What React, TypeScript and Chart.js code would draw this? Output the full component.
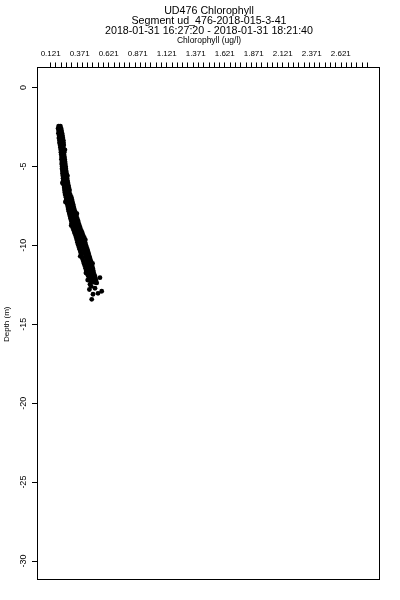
import React, { useEffect, useRef } from "react";
import { Chart, registerables } from "chart.js";

Chart.register(...registerables);

const titleLines = [
  "UD476 Chlorophyll",
  "Segment ud_476-2018-015-3-41",
  "2018-01-31 16:27:20 - 2018-01-31 18:21:40",
];
const xAxisTitle = "Chlorophyll (ug/l)";
const yAxisTitle = "Depth (m)";

const xTickValues = [0.121, 0.371, 0.621, 0.871, 1.121, 1.371, 1.621, 1.871, 2.121, 2.371, 2.621];
const xTickLabels = ["0.121", "0.371", "0.621", "0.871", "1.121", "1.371", "1.621", "1.871", "2.121", "2.371", "2.621"];
const xMinorStart = 0.121;
const xMinorStep = 0.0455;
const xMinorCount = 61;
const xMin = 0.012;
const xMax = 2.959;

const yTickValues = [0, -5, -10, -15, -20, -25, -30];
const yMin = -31.2;
const yMax = 1.2;

// depth (m) rows with the chlorophyll (ug/l) readings found at each depth
const depthRows = [
  -2.45, -2.6, -2.75, -2.9, -3.05, -3.2, -3.35, -3.5, -3.65, -3.8,
  -3.95, -4.1, -4.25, -4.4, -4.55, -4.7, -4.85, -5.0, -5.15, -5.3,
  -5.45, -5.6, -5.75, -5.9, -6.05, -6.2, -6.35, -6.5, -6.65, -6.8,
  -6.95, -7.1, -7.25, -7.4, -7.55, -7.7, -7.85, -8.0, -8.15, -8.3,
  -8.45, -8.6, -8.75, -8.9, -9.05, -9.2, -9.35, -9.5, -9.65, -9.8,
  -9.95, -10.1, -10.25, -10.4, -10.55, -10.7, -10.85, -11.0, -11.15, -11.3,
  -11.45, -11.6, -11.75, -11.9, -12.05, -12.2, -12.35, -12.38, -12.47, -12.6,
  -12.72, -12.8, -12.91, -13.04, -13.1, -13.42,
];
const chlRows = [
  [0.19, 0.205], [0.185, 0.198, 0.211], [0.19, 0.206, 0.215], [0.188, 0.2, 0.219], [0.194, 0.21, 0.223],
  [0.192, 0.206, 0.226], [0.198, 0.215, 0.23], [0.197, 0.212, 0.232], [0.202, 0.219, 0.234], [0.205, 0.223, 0.23],
  [0.208, 0.22, 0.236, 0.244], [0.21, 0.226, 0.238], [0.212, 0.228, 0.236], [0.215, 0.225, 0.24], [0.214, 0.23, 0.242],
  [0.218, 0.232, 0.245], [0.216, 0.228, 0.247], [0.22, 0.236, 0.25], [0.219, 0.232, 0.252], [0.222, 0.24, 0.255],
  [0.223, 0.238, 0.258], [0.226, 0.243, 0.256, 0.266], [0.228, 0.245, 0.262], [0.23, 0.248, 0.266], [0.222, 0.232, 0.25, 0.27],
  [0.235, 0.255, 0.274], [0.238, 0.258, 0.278], [0.24, 0.262, 0.284], [0.243, 0.265, 0.282], [0.246, 0.268, 0.29],
  [0.253, 0.277, 0.299], [0.256, 0.281, 0.304], [0.248, 0.26, 0.287, 0.309], [0.264, 0.291, 0.314], [0.269, 0.294, 0.319],
  [0.272, 0.3, 0.324], [0.277, 0.304, 0.331], [0.282, 0.31, 0.337, 0.347], [0.287, 0.315, 0.343], [0.292, 0.32, 0.35],
  [0.298, 0.327, 0.357], [0.302, 0.332, 0.362], [0.298, 0.307, 0.337, 0.369], [0.312, 0.344, 0.376], [0.32, 0.352, 0.384],
  [0.326, 0.359, 0.393], [0.334, 0.367, 0.4], [0.341, 0.373, 0.41], [0.346, 0.38, 0.408, 0.42], [0.352, 0.385, 0.417],
  [0.357, 0.391, 0.423], [0.364, 0.398, 0.43], [0.371, 0.405, 0.437], [0.377, 0.411, 0.443], [0.383, 0.418, 0.449],
  [0.376, 0.389, 0.424, 0.455], [0.395, 0.429, 0.461], [0.402, 0.436, 0.468], [0.408, 0.442, 0.472, 0.482], [0.415, 0.448, 0.478],
  [0.422, 0.454, 0.484], [0.428, 0.46, 0.488], [0.425, 0.434, 0.466, 0.492], [0.442, 0.475, 0.5], [0.45, 0.482, 0.506, 0.546],
  [0.44, 0.46, 0.49, 0.512], [0.468, 0.5], [0.518], [0.46], [0.47],
  [0.503], [0.455], [0.561], [0.529], [0.486], [0.475],
];

const FONT = "'Liberation Sans', Arial, Helvetica, sans-serif";

export default function App() {
  const ref = useRef<HTMLCanvasElement | null>(null);

  useEffect(() => {
    if (!ref.current) return;
    const points: { x: number; y: number }[] = [];
    depthRows.forEach((d, i) => {
      chlRows[i].forEach((c) => points.push({ x: c, y: d }));
    });
    const minorTicks: number[] = [];
    for (let i = 0; i < xMinorCount; i++) minorTicks.push(xMinorStart + i * xMinorStep);

    const boxPlugin = {
      id: "box",
      afterDraw(chart: any) {
        const { ctx, chartArea } = chart;
        ctx.save();
        ctx.strokeStyle = "#000";
        ctx.lineWidth = 1;
        const l = Math.round(chartArea.left) - 0.5;
        const t = Math.round(chartArea.top) - 0.5;
        const r = Math.round(chartArea.right) - 0.5;
        const b = Math.round(chartArea.bottom) - 0.5;
        ctx.strokeRect(l, t, r - l, b - t);
        ctx.restore();
      },
    };

    const chart = new Chart(ref.current, {
      type: "scatter",
      data: {
        datasets: [
          {
            data: points,
            backgroundColor: "#000",
            borderWidth: 0,
            pointRadius: 2.4,
            pointHoverRadius: 2.4,
          },
        ],
      },
      plugins: [boxPlugin],
      options: {
        animation: false,
        responsive: false,
        events: [],
        layout: { padding: { left: 0, right: 20, top: 0, bottom: 20 } },
        plugins: {
          legend: { display: false },
          tooltip: { enabled: false },
          title: {
            display: true,
            text: titleLines,
            fullSize: false,
            color: "#000",
            font: { family: FONT, size: 10.7, weight: "normal", lineHeight: 0.95 },
            padding: { top: 6, bottom: 0 },
          },
        },
        scales: {
          x: {
            type: "linear",
            position: "top",
            weight: 1,
            min: xMin,
            max: xMax,
            afterBuildTicks: (s: any) => {
              s.ticks = xTickValues.map((v) => ({ value: v }));
            },
            afterFit: (s: any) => {
              s.height = 26;
            },
            ticks: {
              color: "#000",
              font: { family: FONT, size: 8 },
              padding: 4,
              maxRotation: 0,
              minRotation: 0,
              autoSkip: false,
              callback: (_v: any, i: number) => xTickLabels[i],
            },
            grid: { display: false, drawTicks: false },
            border: { display: false },
            title: {
              display: true,
              text: xAxisTitle,
              color: "#000",
              font: { family: FONT, size: 8.5 },
              padding: { top: -1, bottom: 0 },
            },
          },
          x2: {
            type: "linear",
            position: "top",
            weight: 0,
            min: xMin,
            max: xMax,
            afterBuildTicks: (s: any) => {
              s.ticks = minorTicks.map((v) => ({ value: v }));
            },
            afterFit: (s: any) => {
              s.height = 6;
            },
            ticks: { display: false },
            grid: {
              drawOnChartArea: false,
              drawTicks: true,
              tickLength: 6,
              color: "#000",
              lineWidth: 1,
            },
            border: { display: false },
          },
          y: {
            type: "linear",
            position: "left",
            min: yMin,
            max: yMax,
            afterBuildTicks: (s: any) => {
              s.ticks = yTickValues.map((v) => ({ value: v }));
            },
            afterFit: (s: any) => {
              s.width = 38;
            },
            ticks: {
              color: "#000",
              font: { family: FONT, size: 9 },
              minRotation: 90,
              maxRotation: 90,
              crossAlign: "center",
              padding: 1.5,
              autoSkip: false,
              callback: (v: any) => String(v),
            },
            grid: {
              drawOnChartArea: false,
              drawTicks: true,
              tickLength: 6,
              color: "#000",
              lineWidth: 1,
            },
            border: { display: false },
            title: {
              display: true,
              text: yAxisTitle,
              color: "#000",
              font: { family: FONT, size: 8 },
              padding: { top: 2, bottom: 0 },
            },
          },
        },
      },
    } as any);
    return () => chart.destroy();
  }, []);

  return (
    <div style={{ position: "absolute", left: 0, top: 0, width: 400, height: 600, background: "#fff" }}>
      <canvas ref={ref} width={400} height={600} style={{ display: "block" }} />
    </div>
  );
}
